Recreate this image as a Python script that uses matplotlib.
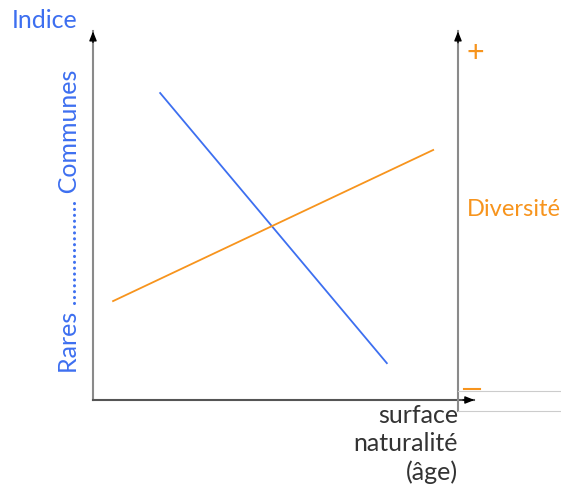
import matplotlib.pyplot as plt

# données (unités arbitraires 0-100)
blue_x = [18.4, 80.5]
blue_y = [84.1, 10.1]
orange_x = [5.5, 93.2]
orange_y = [27.1, 68.5]

blue = "#3d6ff0"
orange = "#f7941d"
gray = "#8a8a8a"

plt.rcParams['font.family'] = ['Lato', 'DejaVu Sans']

fig = plt.figure(figsize=(5.61, 4.92), dpi=100)
ax = fig.add_axes([93 / 561, 92 / 492, 365 / 561, 365 / 492])
ax.set_xlim(0, 100)
ax.set_ylim(0, 100)
ax.axis('off')

ax.plot(blue_x, blue_y, color=blue, lw=1.3)
ax.plot(orange_x, orange_y, color=orange, lw=1.3)

# axes avec flèches noires
def axe(x0, y0, x1, y1, col):
    ax.plot([x0, x1], [y0, y1], color=col, lw=1.5, transform=ax.transAxes, clip_on=False)
    ax.annotate("", xy=(x1, y1), xytext=(x0 + (x1 - x0) * 0.97, y0 + (y1 - y0) * 0.97),
                xycoords='axes fraction',
                arrowprops=dict(arrowstyle="-|>,head_width=0.22,head_length=0.55",
                                color="black", lw=1, shrinkA=0, shrinkB=0))

axe(0, 0, 0, 1.01, gray)
axe(0, 0, 1.045, 0, "#555555")
axe(1.0, -0.03, 1.0, 1.01, gray)

# petites lignes grises à droite
ax.plot([1.0, 1.3], [0.025, 0.025], color="#cccccc", lw=0.8, transform=ax.transAxes, clip_on=False)
ax.plot([1.0, 1.3], [-0.03, -0.03], color="#cccccc", lw=0.8, transform=ax.transAxes, clip_on=False)
ax.plot([1.017, 1.06], [0.03, 0.03], color=orange, lw=1.5, transform=ax.transAxes, clip_on=False)

fig.text(12 / 561, 1 - 21 / 492, "Indice", color=blue, fontsize=18, ha='left', va='center')
fig.text(70 / 561, 1 - 221 / 492, "Rares .................. Communes", color=blue, fontsize=18,
         rotation=90, ha='center', va='center')
fig.text(475 / 561, 1 - 53 / 492, "+", color=orange, fontsize=22, ha='center', va='center')
fig.text(467 / 561, 1 - 209 / 492, "Diversité", color=orange, fontsize=17, ha='left', va='center')
fig.text(458 / 561, 1 - 444 / 492, "surface\nnaturalité\n(âge)", color="#333333", fontsize=18,
         ha='right', va='center', linespacing=1.25)

fig.savefig("out.png", dpi=100, facecolor='white')
